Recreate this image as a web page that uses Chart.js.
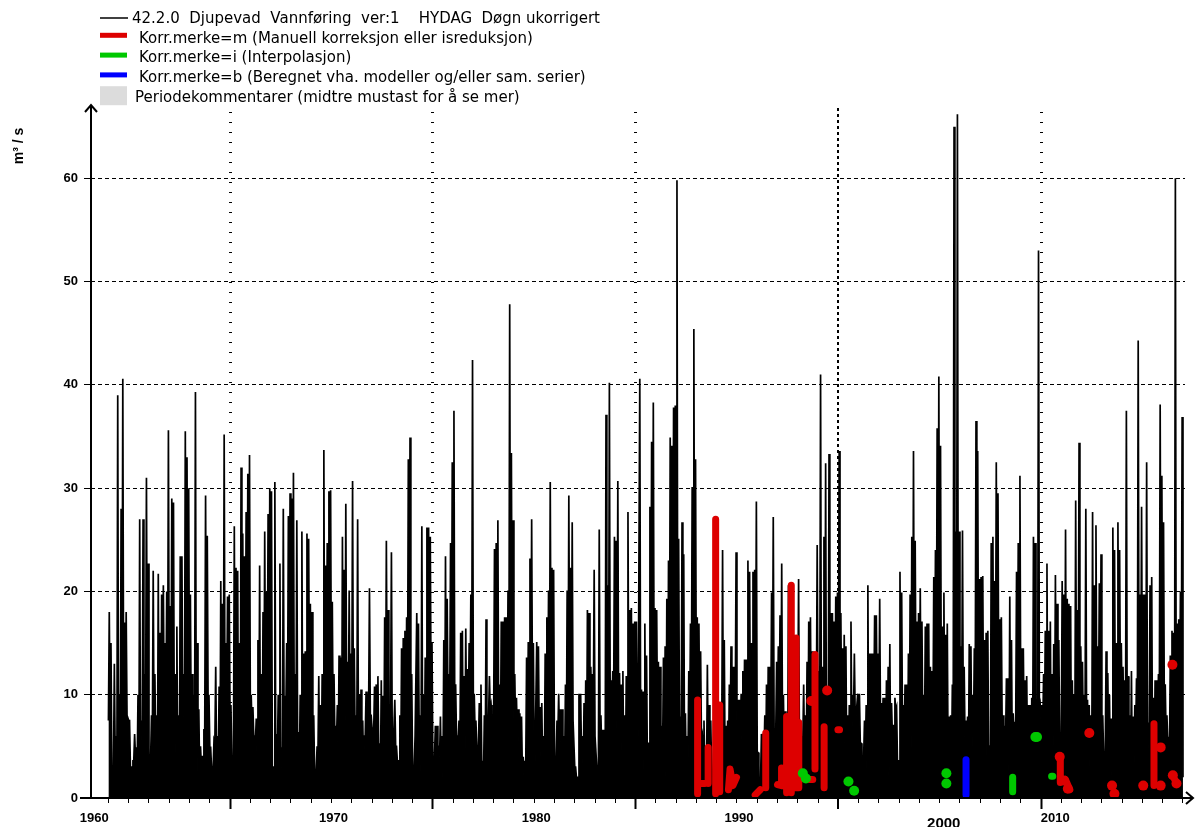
<!DOCTYPE html>
<html>
<head>
<meta charset="utf-8">
<style>
  html, body { margin: 0; padding: 0; background: #fff; }
  #flowChart { display: block; }
</style>
<script src="https://cdn.jsdelivr.net/npm/chart.js@4.4.1/dist/chart.umd.min.js"></script>
</head>
<body>
<canvas id="flowChart" width="1195" height="827"></canvas>
<script>
// first year of the series; each row below = monthly peak flow (m3/s) for one year
const firstYear = 1964;

const peaks1960s = [
  [18, 15, 3, 13, 6, 39, 10, 28, 40.6, 17, 18, 8],
  [7.5, 3, 3.6, 6.2, 4.9, 10, 27, 7.5, 27, 12, 31, 22.7],
  [4, 8, 22, 12, 8, 21.7, 16, 19.7, 20.6, 15, 20, 35.6],
  [18.6, 29, 28.6, 12, 16.6, 8, 23.4, 23.4, 12, 35.5, 33, 30],
  [19.7, 12, 10, 39.3, 15, 8.6, 5, 4, 6.6, 29.3, 25.4, 10],
  [4.9, 3, 5.7, 12.7, 6, 10.8, 21, 18.8, 35.2, 15, 19.5, 19.7]
];
const peaks1970s = [
  [9, 4, 26.3, 22.3, 22, 15, 32, 25.6, 23.4, 27.7, 31.4, 33.2],
  [10, 8.8, 6, 7.7, 15.3, 22.5, 12, 18, 25.8, 20, 27.5, 30],
  [29.7, 3, 30.6, 6.2, 10, 22.7, 4.9, 28, 9.9, 15, 27.3, 29.5],
  [29, 31.5, 12, 26.9, 6.4, 10, 25.8, 14, 14.2, 25.6, 25.1, 18.8],
  [18, 8, 2.7, 5, 11.8, 9, 12, 33.7, 22.5, 24.7, 29.7, 29.8],
  [19, 12, 7, 9, 13.8, 13.6, 25.3, 22.1, 28.5, 13.2, 20.1, 14],
  [30.7, 14.5, 8, 27, 10, 10.5, 7.5, 6, 10.3, 10.1, 20.3, 8],
  [6.8, 10.8, 11, 11.8, 5.3, 11.4, 9.9, 17.5, 24.9, 18.2, 8.8, 23.8],
  [4.4, 9.5, 5, 3.6, 8, 14.5, 15.5, 16.2, 17.5, 32.8, 34.9, 12],
  [3.1, 6, 17.9, 16.9, 8, 26.3, 10, 13.6, 26.2, 26.2, 25.3, 15]
];
const peaks1980s = [
  [4, 7, 7, 5, 7.9, 6, 15.3, 23.4, 19.3, 12, 24.7, 32.5],
  [37.5, 11, 6, 7.5, 16, 16.2, 11.8, 16.4, 12.5, 15, 19.7, 42.4],
  [10.1, 7.5, 5, 9.2, 11, 3.6, 8, 17.3, 7.9, 11.8, 9, 7.9],
  [24.1, 24.7, 26.9, 11, 17.1, 17.1, 17.5, 17.5, 20.1, 47.8, 33.4, 26.9],
  [12, 9.7, 8.6, 8.2, 7.9, 4, 3.6, 13.6, 15.1, 23.2, 27, 15],
  [3.6, 15.1, 14.7, 8.8, 9.2, 6, 14, 17.5, 20.1, 30.6, 22.3, 22.1],
  [4, 7.5, 10.1, 8.6, 8.6, 6, 11, 20.1, 29.3, 22.3, 26.7, 7.5],
  [3, 2, 10.1, 10.1, 6, 9.2, 11.4, 18.2, 17.9, 12.7, 12, 22.1],
  [6, 3.1, 26, 8, 6.6, 6.6, 37.1, 20.6, 40.2, 11.4, 12.3, 25.3],
  [24.9, 30.7, 12.1, 11, 12.3, 8, 11.8, 27.7, 18.2, 18.4, 16.9, 17.1]
];
const peaks1990s = [
  [17.1, 6, 40.6, 10.5, 10.3, 16.9, 13.8, 5.3, 28.2, 34.5, 38.3, 18.4],
  [18.2, 13.2, 12.7, 7, 13.6, 14.7, 19.3, 23, 34.9, 34.1, 37.8, 38],
  [59.8, 25.1, 7.9, 26.7, 23.6, 8.2, 6, 12.3, 16.9, 30.1, 45.4, 32.8],
  [17.5, 16.9, 14.2, 6, 7.5, 5, 12.9, 9, 7.5, 2.7, 12, 11.4],
  [9, 8, 7.5, 24, 15.3, 7, 7.5, 11, 14.7, 12.7, 12.7, 23.8],
  [9.5, 9.5, 10.1, 12.3, 13.4, 13.4, 23, 21.9, 15, 21.9, 22.1, 28.7],
  [4.4, 1.8, 6.2, 6.2, 8, 11, 12.7, 12.7, 19.9, 27.2, 6.6, 13.2],
  [14.7, 17.7, 22.7, 10, 8.4, 6, 20.6, 10, 8, 15.3, 10, 12],
  [21.2, 4.4, 6, 11, 8, 13.2, 17.1, 17.5, 14.2, 9.7, 9.7, 24.5],
  [12.3, 41, 12.7, 25.3, 32.4, 10, 33.3, 17.9, 17.9, 17.1, 19.5, 19.9]
];
const peaks2000s = [
  [33.6, 17.9, 14.5, 15.8, 14.7, 8, 9, 17.1, 10, 14, 7.9, 10.1],
  [10.1, 5.3, 4, 7.5, 9, 20.6, 14, 14, 14, 17.7, 17.7, 14],
  [19.3, 9.2, 9.7, 9.7, 11.4, 12.7, 14.9, 9.2, 7, 9.7, 8.8, 3.6],
  [21.9, 19.9, 9, 11, 11, 14, 19.7, 25.3, 33.6, 24.9, 17.1, 17.9],
  [20.3, 17.1, 10, 16.6, 16.9, 16.9, 12.7, 12.3, 21.4, 24, 35.8, 40.8],
  [34.1, 16.6, 19.9, 15.8, 16.9, 7.9, 8, 11, 65, 25.8, 66.2, 25.8],
  [14.7, 25.9, 12.7, 7.5, 7.9, 14.9, 14.7, 10, 14.5, 36.5, 33.6, 21.2],
  [21.4, 21.5, 15.3, 16, 16.2, 5.1, 24.7, 25.3, 21, 32.5, 29.5, 17.3],
  [17.5, 8, 7, 11.6, 11.6, 19.5, 15.3, 8.2, 7.3, 21.9, 24.7, 31.2],
  [14.5, 14.5, 11.4, 11.8, 9, 9, 9.7, 25.3, 24.7, 7, 53, 9]
];
const peaks2010s = [
  [9, 12, 16.2, 22.7, 16.2, 17.1, 12, 14.9, 21.6, 18.8, 15.3, 6.2],
  [21, 19.7, 26, 19.3, 18.8, 18.6, 11.4, 10, 28.8, 18.2, 34.4, 14.7],
  [13.2, 10, 28, 9.5, 9, 8, 27.7, 20.6, 26.4, 14.7, 20.8, 23.6],
  [8, 4.4, 14.2, 12.1, 10, 7.7, 26.2, 24, 15, 26.7, 24, 15],
  [12.7, 11.4, 37.5, 11.8, 8, 12.3, 7.9, 9, 11.6, 44.3, 19.7, 28.2],
  [19.7, 19.7, 32.5, 7.3, 20.6, 21.4, 9.7, 11.4, 11.4, 12, 38.1, 31.2],
  [26.7, 11, 8, 5.7, 13.8, 16.2, 16, 60, 16.9, 17.3, 20, 36.9]
];
// typical flow between the floods at the start of each month, Jan..Dec
const monthlyLow = [7.5, 6.5, 6, 5.5, 4, 2.5, 2, 3, 6, 8, 8.5, 8.5];

// corrected stretches, [year, m3/s]
const manualCorr = [
  [[1993.06, 0.4], [1993.06, 9.5]],
  [[1993.2, 1.4], [1993.42, 1.4]],
  [[1993.58, 1.4], [1993.58, 4.9]],
  [[1993.95, 0.4], [1993.95, 27.0]],
  [[1994.15, 0.6], [1994.15, 9.0]],
  [[1994.58, 0.8], [1994.66, 2.8], [1994.8, 1.2], [1994.98, 2.0]],
  [[1995.9, 0.3], [1996.15, 0.8]],
  [[1996.42, 1.0], [1996.42, 6.3]],
  [[1997.0, 1.3], [1997.2, 1.2], [1997.2, 2.9]],
  [[1997.45, 0.5], [1997.45, 7.9]],
  [[1997.68, 0.5], [1997.68, 20.6]],
  [[1997.92, 1.0], [1997.92, 15.5]],
  [[1998.05, 1.0], [1998.05, 7.3]],
  [[1998.58, 1.8], [1998.74, 1.8]],
  [[1998.85, 2.8], [1998.85, 13.9]],
  [[1999.3, 1.0], [1999.3, 6.9]],
  [[1999.98, 6.6], [2000.06, 6.6]],
  [[2010.95, 4.0], [2010.95, 1.5]],
  [[2011.05, 1.6], [2011.2, 1.8], [2011.42, 0.8]],
  [[2015.57, 1.2], [2015.57, 7.2]],
  [[2016.48, 2.2], [2016.7, 1.4]]
];
const manualDots = [
  [1998.67, 9.4], [1999.45, 10.4], [2010.92, 4.0], [2011.12, 1.7], [2011.32, 0.9],
  [2012.38, 6.3], [2013.5, 1.2], [2013.62, 0.4], [2015.04, 1.2], [2015.9, 4.9],
  [2015.9, 1.2], [2016.48, 12.9], [2016.5, 2.2], [2016.68, 1.4]
];
const interpCorr = [
  [[2008.6, 2.0], [2008.6, 0.6]],
  [[2010.52, 2.1], [2010.58, 2.1]]
];
const interpDots = [
  [1998.25, 2.4], [1998.4, 1.9], [2000.5, 1.6], [2000.78, 0.7],
  [2005.33, 2.4], [2005.33, 1.4], [2009.72, 5.9], [2009.8, 5.9]
];
const modelCorr = [
  [[2006.3, 0.3], [2006.3, 3.7]]
];

const yTicks = [0, 10, 20, 30, 40, 50, 60];
const decadeLines = [1970, 1980, 1990, 2000, 2010];
const decadeLabels = ['1960', '1970', '1980', '1990', '2000', '2010'];
const decadeLabelAt = [1963.3, 1975.1, 1985.1, 1995.1, 2005.2, 2010.7];

const FONT = '"Liberation Sans", Arial, sans-serif';
const KEY_FONT = '"DejaVu Sans", Verdana, sans-serif';

// flow line: low at the turn of each month, peak mid-month
const flowYears = [...peaks1960s, ...peaks1970s, ...peaks1980s, ...peaks1990s, ...peaks2000s, ...peaks2010s];
const allPeaks = flowYears.flat();
const flowPoints = [];
allPeaks.forEach((peak, k) => {
  const t = firstYear + k / 12;
  const prev = k > 0 ? allPeaks[k - 1] : peak;
  flowPoints.push({x: t, y: Math.min(monthlyLow[k % 12], prev, peak)});
  flowPoints.push({x: t + 1 / 24, y: peak});
});
flowPoints.push({x: firstYear + allPeaks.length / 12, y: 2});

function toPoints(segments) {
  const pts = [];
  segments.forEach(seg => {
    seg.forEach(p => pts.push({x: p[0], y: p[1]}));
    pts.push({x: seg[seg.length - 1][0], y: null});
  });
  return pts;
}
const asDots = list => list.map(p => ({x: p[0], y: p[1]}));

const yearTicks = [];
for (let y = firstYear; y <= firstYear + flowYears.length; y++) yearTicks.push(y);
const nLabels = decadeLabels.length;

const RED = '#dd0000', GREEN = '#00c800', BLUE = '#0000ff';

const corrStyle = {
  type: 'line', borderWidth: 7, pointRadius: 0, fill: false, spanGaps: false,
  borderCapStyle: 'round', borderJoinStyle: 'round'
};
const dotStyle = {
  type: 'line', showLine: false, pointRadius: 5, pointBorderWidth: 0, fill: false
};

// legend drawn as plain rows at the top left
const seriesKey = {
  id: 'seriesKey',
  afterDraw(chart) {
    const ctx = chart.ctx;
    ctx.save();
    ctx.font = '15px ' + KEY_FONT;
    ctx.textBaseline = 'middle';
    let row = 0;
    chart.data.datasets.forEach(ds => {
      if (!ds.keyStyle) return;
      const y = 19 + row * 19.8;
      row++;
      let tx = 139;
      if (ds.keyStyle === 'line') {
        ctx.strokeStyle = ds.borderColor;
        ctx.lineWidth = 1.5;
        ctx.beginPath(); ctx.moveTo(100, y - 1); ctx.lineTo(128, y - 1); ctx.stroke();
        tx = 132;
      } else if (ds.keyStyle === 'bar') {
        ctx.fillStyle = ds.borderColor;
        ctx.fillRect(100, y - 6, 27, 5);
      } else {
        ctx.fillStyle = ds.backgroundColor;
        ctx.fillRect(100, y - 12, 27, 19);
        tx = 135;
      }
      ctx.fillStyle = '#000';
      ctx.fillText(ds.label, tx, y);
    });
    ctx.restore();
  }
};

// axis lines with arrow heads and the unit label
const axisArrows = {
  id: 'axisArrows',
  afterDatasetsDraw(chart) {
    const {ctx, chartArea: a} = chart;
    ctx.save();
    ctx.strokeStyle = '#000';
    ctx.lineWidth = 2;
    ctx.beginPath();
    ctx.moveTo(a.left, a.bottom + 1); ctx.lineTo(a.left, a.top - 1);
    ctx.moveTo(a.left - 6, a.top + 6); ctx.lineTo(a.left, a.top - 1); ctx.lineTo(a.left + 6, a.top + 6);
    ctx.moveTo(80, a.bottom); ctx.lineTo(a.right + 8, a.bottom);
    ctx.moveTo(a.right + 1, a.bottom - 6); ctx.lineTo(a.right + 8, a.bottom); ctx.lineTo(a.right + 1, a.bottom + 6);
    ctx.stroke();
    ctx.translate(19, 146);
    ctx.rotate(-Math.PI / 2);
    ctx.font = 'bold 14px ' + FONT;
    ctx.fillStyle = '#000';
    ctx.textAlign = 'center';
    ctx.textBaseline = 'middle';
    ctx.fillText('m³ / s', 0, 0);
    ctx.restore();
  }
};

new Chart(document.getElementById('flowChart'), {
  type: 'line',
  data: {
    datasets: [
      {
        label: '42.2.0  Djupevad  Vannføring  ver:1    HYDAG  Døgn ukorrigert',
        data: flowPoints, borderColor: '#000', backgroundColor: '#000',
        borderWidth: 1.7, pointRadius: 0, fill: 'origin', order: 10, keyStyle: 'line'
      },
      Object.assign({label: 'Korr.merke=m (Manuell korreksjon eller isreduksjon)',
        data: toPoints(manualCorr), borderColor: RED, order: 4, keyStyle: 'bar'}, corrStyle),
      Object.assign({label: 'Korr.merke=i (Interpolasjon)',
        data: toPoints(interpCorr), borderColor: GREEN, order: 2, keyStyle: 'bar'}, corrStyle),
      Object.assign({label: 'Korr.merke=b (Beregnet vha. modeller og/eller sam. serier)',
        data: toPoints(modelCorr), borderColor: BLUE, order: 2, keyStyle: 'bar'}, corrStyle),
      {
        label: 'Periodekommentarer (midtre mustast for å se mer)',
        data: [], borderColor: '#dcdcdc', backgroundColor: '#dcdcdc',
        pointRadius: 0, order: 20, keyStyle: 'box'
      },
      Object.assign({label: 'm-punkt', data: asDots(manualDots),
        pointBackgroundColor: RED, borderColor: RED, order: 3}, dotStyle),
      Object.assign({label: 'i-punkt', data: asDots(interpDots),
        pointBackgroundColor: GREEN, borderColor: GREEN, order: 1}, dotStyle)
    ]
  },
  options: {
    responsive: false,
    animation: false,
    layout: { padding: { top: 106, right: 10, left: 0, bottom: 0 } },
    plugins: { legend: { display: false }, tooltip: { enabled: false } },
    scales: {
      x: {
        type: 'linear',
        min: 1963.14,
        max: 2017.1,
        afterBuildTicks: axis => {
          axis.ticks = decadeLabelAt.map(v => ({value: v})).concat(yearTicks.map(v => ({value: v})));
        },
        afterFit: s => { s.height = 29; },
        ticks: {
          autoSkip: false, maxRotation: 0, padding: 2, color: '#000',
          callback: (v, i) => (i < nLabels ? decadeLabels[i] : ''),
          font: c => (c.index === 4
            ? {family: FONT, size: 15, weight: 'bold', lineHeight: 1.77}
            : {family: FONT, size: 13, weight: 'bold', lineHeight: 1.2})
        },
        grid: {
          tickLength: 11,
          color: c => (c.index >= nLabels && decadeLines.includes(c.tick.value) ? '#000' : 'rgba(0,0,0,0)'),
          lineWidth: c => (c.tick && c.tick.value === 2000 && c.index >= nLabels ? 2 : 3),
          tickColor: c => (c.index < nLabels ? 'rgba(0,0,0,0)' : '#000'),
          tickWidth: c => (c.index >= nLabels && decadeLines.includes(c.tick.value) ? 2 : 1),
          tickBorderDash: c => (c.index >= nLabels && decadeLines.includes(c.tick.value) ? [] : [5, 40])
        },
        border: {
          display: false,
          dash: c => (c.tick && c.tick.value === 2000 ? [3, 3] : [1, 9]),
          dashOffset: 4
        }
      },
      y: {
        min: 0,
        max: 67,
        afterBuildTicks: axis => { axis.ticks = yTicks.map(v => ({value: v})); },
        afterFit: s => { s.width = 91; },
        ticks: {
          padding: 6, color: '#000',
          font: {family: FONT, size: 13, weight: 'bold'},
          callback: v => String(v)
        },
        grid: {
          tickLength: 7,
          tickColor: '#000',
          color: c => (c.tick && c.tick.value === 0 ? 'rgba(0,0,0,0)' : '#000'),
          lineWidth: 1
        },
        border: { display: false, dash: [4, 3] }
      }
    }
  },
  plugins: [seriesKey, axisArrows]
});
</script>
</body>
</html>
